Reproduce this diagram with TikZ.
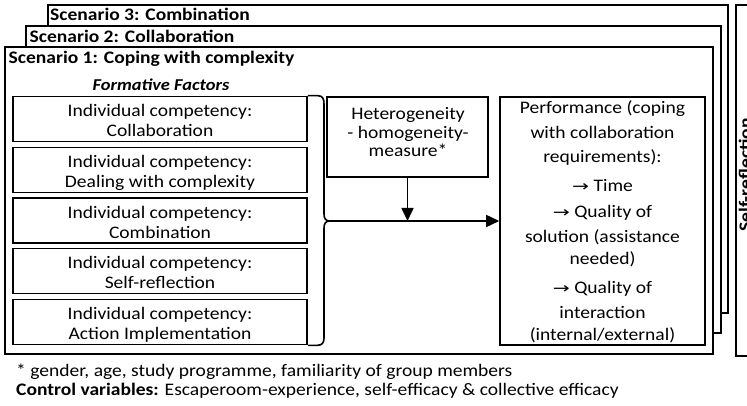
\documentclass[tikz,border=0pt]{standalone}
\usepackage{fontspec}
\setmainfont{Carlito}[FakeStretch=1.11]
\newfontfamily\dvfont{DejaVu Sans}[FakeStretch=1.35]
\usetikzlibrary{arrows.meta}
\begin{document}
\begin{tikzpicture}[x=1pt,y=-1pt,
  frame/.style={draw, line width=1.8pt, fill=white, rectangle, inner sep=0, anchor=north west},
  box/.style={draw, line width=1.6pt, rectangle, inner sep=0, fill=white},
  txt/.style={font=\fontsize{17.6}{17}\selectfont, anchor=base, inner sep=0},
  ttl/.style={font=\fontsize{17.6}{19}\selectfont\bfseries, anchor=base west, inner sep=0},
  foot/.style={font=\fontsize{17.6}{17.9}\selectfont, anchor=base west, inner sep=0},
  arr/.style={line width=1.6pt, -{Triangle[length=13pt,width=12pt]}}
]
\clip (0,0) rectangle (747,406);
\fill[white] (0,0) rectangle (747,406);

% self-reflection box
\node[frame, minimum width=40, minimum height=351] (sr) at (735,4) {};
\node[font=\fontsize{17.6}{17.9}\selectfont\bfseries, rotate=90, anchor=base, inner sep=0] (srt) at (751,175) {Self-reflection};

% scenario frames
\node[frame, minimum width=680, minimum height=308] (f3) at (47,4) {};
\node[ttl] (t3) at (50,20.5) {Scenario 3: Combination};
\node[frame, minimum width=695, minimum height=307] (f2) at (25,25) {};
\node[ttl] (t2) at (29.5,42.5) {Scenario 2: Collaboration};
\node[frame, minimum width=708, minimum height=307] (f1) at (4,46) {};
\node[ttl] (t1) at (8.5,63.5) {Scenario 1: Coping with complexity};

\node[font=\fontsize{16.6}{17.9}\selectfont\bfseries\itshape, anchor=base, inner sep=0] (ff) at (161,90.5) {Formative Factors};

% competency boxes
\foreach \i/\y/\t in {1/119/Collaboration, 2/170/Dealing with complexity, 3/220.5/Combination, 4/271/Self-reflection, 5/322/Action Implementation}{
  \node[box, minimum width=294, minimum height=45] (c\i) at (160,\y) {};
  \node[txt] (ca\i) at ([yshift=25.5pt]c\i.south) {Individual competency:};
  \node[txt] (cb\i) at ([yshift=5.5pt]c\i.south) {\t};
}

% heterogeneity box
\node[box, minimum width=161, minimum height=80] (het) at (407.5,137) {};
\foreach \k/\y/\t in {1/120/Heterogeneity, 2/139/- homogeneity-, 3/157/measure*}{
  \node[txt] (h\k) at (408,\y) {\t};
}

% performance box
\node[box, minimum width=205, minimum height=248] (perf) at (602.5,221) {};
\newcommand{\ar}{{\dvfont\fontsize{15}{17}\selectfont →}}
\foreach \k/\y/\t in {1/114/{Performance (coping}, 2/139/{with collaboration}, 3/163/{requirements):}, 4/192/{\ar{} Time}, 5/218/{\ar{} Quality of}, 6/243/{solution (assistance}, 7/264/{needed)}, 8/293/{\ar{} Quality of}, 9/318/{interaction}, 10/340/{(internal/external)}}{
  \node[txt] (p\k) at (602.5,\y) {\t};
}

% brace
\coordinate (bt) at (c1.north east);
\coordinate (bb) at (c5.south east);
\coordinate (tip) at (330,221);
\draw[line width=1.6pt, line join=round]
  (bt) -- ++(10,0) .. controls ++(5,0) and ++(0,-5) .. (324,104) -- (324,214)
  .. controls (324,219) and (326,221) .. (tip)
  .. controls (326,221) and (324,223) .. (324,228) -- (324,338)
  .. controls (324,343) and (322,345) .. ([xshift=10pt]bb) -- (bb);

% arrows
\draw[arr] (tip) -- (perf.west);
\coordinate (j) at (het.south |- tip);
\draw[arr] (het.south) -- (j);

% footnotes
\node[foot] (n1) at (16,376) {* gender, age, study programme, familiarity of group members};
\node[foot] (n2) at (16,395) {\textbf{Control variables:} Escaperoom-experience, self-efficacy \& collective efficacy};
\end{tikzpicture}
\end{document}
